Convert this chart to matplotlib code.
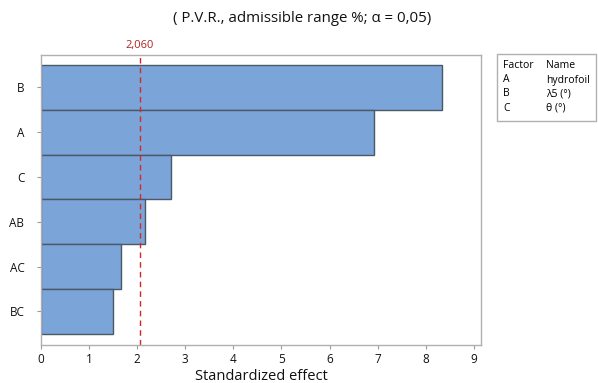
import matplotlib.pyplot as plt
from matplotlib.patches import Rectangle

plt.rcParams['font.family'] = ['Open Sans', 'DejaVu Sans']

terms = ["B", "A", "C", "AB", "AC", "BC"]
effects = [8.33, 6.92, 2.70, 2.16, 1.66, 1.50]
critical = 2.060
factors = ["A", "B", "C"]
names = ["hydrofoil", "λ5 (°)", "θ (°)"]

W, H = 598, 383
fig = plt.figure(figsize=(W / 100, H / 100), dpi=100)
ax = fig.add_axes([41 / W, 1 - 345 / H, 440 / W, 290 / H])

ypos = list(range(len(terms)))
ax.barh(ypos, effects, height=1.0, color="#7BA5D8", edgecolor="#4A5868", linewidth=1.0)
ax.set_yticks(ypos)
ax.set_yticklabels(terms, fontsize=8.5, color="#111111")
ax.set_ylim(len(terms) - 0.5 + 0.25, -0.5 - 0.22)
ax.set_xlim(0, 9.15)
ax.set_xticks(range(10))
ax.tick_params(axis="x", labelsize=8.5, length=3, color="#999999", pad=3, labelcolor="#111111")
ax.tick_params(axis="y", length=3, color="#999999", pad=9)
for s in ax.spines.values():
    s.set_color("#B0B0B0")
    s.set_linewidth(1.0)

ax.axvline(critical, color="#D62728", linestyle=(0, (4, 3)), linewidth=1.0)
ax.text(critical, 1.015, f"{critical:.3f}".replace(".", ","), transform=ax.get_xaxis_transform(),
        ha="center", va="bottom", color="#B22222", fontsize=8)

ax.set_xlabel("Standardized effect", fontsize=10.5, labelpad=2, color="#111111")
fig.text(302 / W, 1 - 18 / H, "( P.V.R., admissible range %; α = 0,05)",
         ha="center", va="center", fontsize=10.8, color="#111111")

# factor legend table
fig.patches.append(Rectangle((497 / W, 1 - 121 / H), 99 / W, 67 / H, transform=fig.transFigure,
                             fill=False, edgecolor="#B0B0B0", linewidth=1.0))
fig.text(503 / W, 1 - 66 / H, "Factor", fontsize=7.5, va="center")
fig.text(546 / W, 1 - 66 / H, "Name", fontsize=7.5, va="center")
for i, (f, n) in enumerate(zip(factors, names)):
    y = 1 - (80 + i * 14) / H
    fig.text(503 / W, y, f, fontsize=7.5, va="center")
    fig.text(546 / W, y, n, fontsize=7.5, va="center")

fig.savefig("out.png", dpi=100)
